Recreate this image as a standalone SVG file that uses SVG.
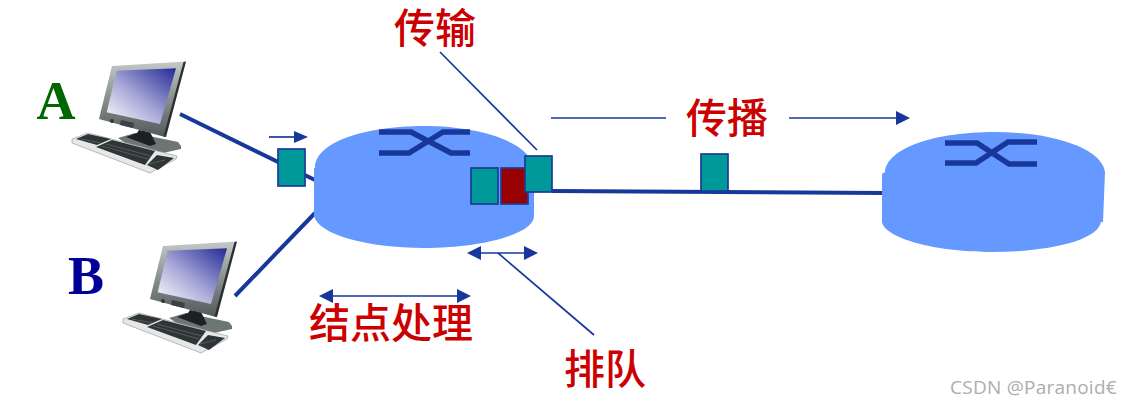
<svg xmlns="http://www.w3.org/2000/svg" width="1132" height="406" viewBox="0 0 1132 406">
<style>
.lbl{font-family:"Liberation Serif","Noto Sans CJK SC",serif;font-size:41px;font-weight:500;fill:#cc0000;text-anchor:middle}
.ltr{font-family:"Liberation Serif",serif;font-weight:bold;font-size:54px;text-anchor:middle}
.wm{font-family:"Open Sans","Noto Sans",sans-serif;font-size:19px;letter-spacing:.25px;fill:#adadad}
.body{fill:#6699ff}
.sw{fill:none;stroke:#17389a;stroke-width:5.5}
.pk{fill:#009999;stroke:#1a3c96;stroke-width:1.7}
.th{fill:none;stroke:#17389a;stroke-width:1.7}
.md{fill:none;stroke:#17389a;stroke-width:4}
.ar{fill:#17389a}
.key{fill:#2f3436}
.row{fill:none;stroke:#6f7475;stroke-width:.6}
</style>
<defs>
<linearGradient id="scr" x1="1" y1="0" x2="0" y2="1"><stop offset="0" stop-color="#232a96"/><stop offset=".55" stop-color="#a9a9d8"/><stop offset="1" stop-color="#ffffff"/></linearGradient>
<linearGradient id="mon" x1="0" y1="0" x2="0" y2="1"><stop offset="0" stop-color="#c4c8c8"/><stop offset=".45" stop-color="#8e9493"/><stop offset="1" stop-color="#525958"/></linearGradient>
<g id="pc">
<path d="M118 138L135 133L178 142L181 146V149L163 153L130 146Z" fill="#6e7675"/>
<path d="M126 137L137 133L139 130L150 132L152 136L156 144L150 146Z" fill="#1c2224"/>
<path d="M112 66L186 61.500L165 137L99 119Z" fill="url(#mon)"/>
<path d="M183.500 62L186 61.500L166 137L163.500 136.500Z" fill="#2a3032"/>
<path d="M116.700 70.700L176 68.300L160 124L106.700 112.300Z" fill="url(#scr)"/>
<ellipse cx="112" cy="121" rx="2" ry="2" fill="#30383a"/>
<path d="M121 120L134 123L133 128L120 125Z" fill="#3a4244"/>
<path d="M72 139L88 133L177 156L176 159L150 173L72 143Z" fill="#e6e8e8" stroke="#8e9292" stroke-width=".6"/>
<path class="key" d="M76 139L88 134L111 139L97 145Z"/>
<path class="key" d="M96 147L112 140L155 151L145 165Z"/>
<path class="key" d="M147 165L157 155L174 158L158 170Z"/>
<path class="row" d="M102 146L148 159M106 144L151 156M81 139L101 143M149 164L165 160"/>
</g>
</defs>
<g id="connectors">
<path class="md" d="M180 114L315 180"/>
<path class="md" d="M235 296L315 213"/>
<path class="md" d="M552 191L885 193"/>
<path class="th" d="M440 52L537 150"/>
<path class="th" d="M498 253L594 335"/>
<path class="th" d="M551 118H666"/>
<path class="th" d="M789 118H897"/>
<path class="ar" d="M910 118L896 111V125Z"/>
<path class="th" d="M269 137H296"/>
<path class="ar" d="M308 137L294 131V143Z"/>
<path class="th" d="M330 296H458"/>
<path class="ar" d="M319 296L333 289V303Z"/>
<path class="ar" d="M471 296L457 289V303Z"/>
<path class="th" d="M478 253H528"/>
<path class="ar" d="M467 253L481 246V260Z"/>
<path class="ar" d="M538 253L524 246V260Z"/>
</g>
<g id="host-a"><use href="#pc"/></g>
<g id="host-b"><use href="#pc" x="51" y="180"/></g>
<g id="router-1">
<path class="body" d="M315 168C315 142 365 126 424 126C480 126 530 142 534 168V216C534 234 482 248 424 248C366 248 318 234 314 216V168Z"/>
<path class="sw" d="M379 132H411L451 153H470M379 153H409L443 132H470"/>
</g>
<g id="router-2">
<path class="body" d="M885 172C887 148 935 132 994 132C1052 132 1102 148 1105 172L1103 222H1101C1098 240 1050 252 992 252C934 252 885 238 882 222V174Z"/>
<path class="sw" d="M945 143H977L1009 164H1037M945 163H976L1008 142H1037"/>
</g>
<g id="packet-link-a"><rect class="pk" x="278" y="149" width="27" height="37"/></g>
<g id="packet-queue-1"><rect class="pk" x="471" y="168" width="27" height="36"/></g>
<g id="packet-queue-2"><rect x="501" y="168" width="27" height="36" fill="#990000" stroke="#1a3c96" stroke-width="1.700"/></g>
<g id="packet-tx"><rect class="pk" x="525" y="156" width="27" height="36"/></g>
<g id="packet-prop"><rect class="pk" x="701" y="154" width="27" height="37"/></g>
<text class="ltr" x="56" y="119" fill="#006600">A</text>
<text class="ltr" x="86" y="294" fill="#000099">B</text>
<text class="lbl" x="435" y="43">传输</text>
<text class="lbl" x="727" y="133">传播</text>
<text class="lbl" x="391" y="338">结点处理</text>
<text class="lbl" x="605" y="384">排队</text>
<text class="wm" x="950" y="394">CSDN @Paranoid€</text>
</svg>
